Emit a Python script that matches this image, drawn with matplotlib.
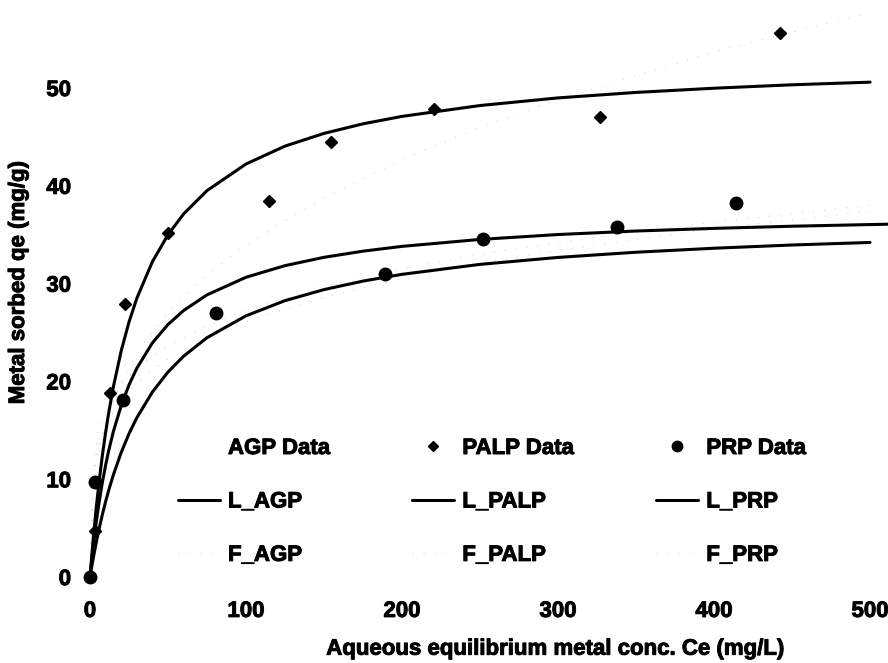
import matplotlib
matplotlib.use("Agg")
from matplotlib import pyplot as plt
from matplotlib import patheffects
from matplotlib.lines import Line2D

plt.rcParams['font.family'] = ['Liberation Sans', 'DejaVu Sans']
plt.rcParams['font.weight'] = 'bold'

# measured equilibrium data
palp_ce = [0, 3.5, 12.8, 22.4, 50, 115, 154.5, 220.5, 327, 442]
palp_qe = [0, 4.7, 18.8, 27.9, 35.2, 38.4, 44.5, 47.9, 47.0, 55.6]

prp_ce = [0, 3.2, 21, 81, 189, 252, 338, 414]
prp_qe = [0, 9.7, 18.1, 27.0, 31.0, 34.6, 35.8, 38.2]

# Langmuir model curves
ce_model = [0, 2, 4, 6, 8, 10, 12, 15, 20, 25, 30, 40, 50, 60, 75, 100, 125,
            150, 175, 200, 250, 300, 350, 400, 450, 500]
l_palp = [0, 3.79, 7.08, 9.96, 12.51, 14.76, 16.79, 19.45, 23.12, 26.07, 28.49,
          32.24, 35.0, 37.12, 39.51, 42.23, 44.06, 45.36, 46.34, 47.10, 48.21,
          48.99, 49.55, 49.98, 50.33, 50.60]
l_prp = [0, 1.85, 3.52, 5.04, 6.43, 7.70, 8.87, 10.45, 12.73, 14.65, 16.28,
         18.92, 20.96, 22.58, 24.47, 26.71, 28.26, 29.39, 30.26, 30.95, 31.97,
         32.68, 33.21, 33.62, 33.95, 34.21]
ce_agp = ce_model + [520]
l_agp = [0, 3.02, 5.59, 7.80, 9.73, 11.42, 12.93, 14.88, 17.53, 19.64, 21.34,
         23.94, 25.82, 27.25, 28.85, 30.65, 31.84, 32.69, 33.32, 33.81, 34.52,
         35.02, 35.38, 35.65, 35.87, 36.04, 36.10]

# Freundlich model curves
ce_fr = [0, 2, 5, 10, 20, 35, 50, 75, 100, 150, 200, 250, 300, 400, 500]
f_agp = [0, 11.0, 14.8, 17.1, 19.7, 22.0, 23.6, 25.7, 27.3, 29.7, 31.5, 33.0,
         34.2, 36.3, 38.0]
f_palp = [0, 9.4, 12.6, 15.9, 19.97, 24.0, 27.0, 30.9, 33.96, 38.8, 42.7, 46.0,
          48.8, 53.7, 57.7]
f_prp = [0, 10.0, 13.3, 15.6, 18.2, 20.5, 22.3, 24.4, 26.1, 28.6, 30.5, 32.1,
         33.4, 35.6, 37.4]

x_ticks = [0, 100, 200, 300, 400, 500]
y_ticks = [0, 10, 20, 30, 40, 50]

fig = plt.figure(figsize=(8.88, 6.63), dpi=100)
ax = fig.add_axes([0.0957, 0.1146, 0.9043, 0.8854])

fsize = 16
heavy = [patheffects.withStroke(linewidth=0.7, foreground='black')]
line_kw = dict(color='black', lw=2.2, solid_capstyle='round', solid_joinstyle='round')
dot_kw = dict(color='#d2d2d2', lw=0.8, ls=(0, (1, 9)))

ax.plot(ce_fr, f_agp, **dot_kw)
ax.plot(ce_fr, f_palp, **dot_kw)
ax.plot(ce_fr, f_prp, **dot_kw)
ax.plot(ce_agp, l_agp, **line_kw)
ax.plot(ce_model, l_palp, **line_kw)
ax.plot(ce_model, l_prp, **line_kw)
ax.plot(palp_ce, palp_qe, ls='none', marker='D', ms=5.8, color='black', clip_on=False)
ax.plot(prp_ce, prp_qe, ls='none', marker='o', ms=9, color='black', clip_on=False)

ax.set_xlim(-3.2, 511.5)
ax.set_ylim(-1.02, 59.0)
ax.set_xticks(x_ticks)
ax.set_yticks(y_ticks)
ax.tick_params(length=0, labelsize=fsize, pad=10)
for s in ax.spines.values():
    s.set_visible(False)

ax.set_xlabel('Aqueous equilibrium metal conc. Ce (mg/L)', fontsize=fsize, fontweight='bold')
ax.set_ylabel('Metal sorbed qe (mg/g)', fontsize=fsize, fontweight='bold')
ax.xaxis.set_label_coords(0.585, -0.088)
ax.yaxis.set_label_coords(-0.0697, 0.518)

# legend entries in column order
handles = [
    Line2D([], [], ls='none', marker='none'),
    Line2D([], [], **line_kw),
    Line2D([], [], **dot_kw),
    Line2D([], [], ls='none', marker='D', ms=5.5, color='black'),
    Line2D([], [], **line_kw),
    Line2D([], [], **dot_kw),
    Line2D([], [], ls='none', marker='o', ms=7.5, color='black'),
    Line2D([], [], **line_kw),
    Line2D([], [], **dot_kw),
]
labels = ['AGP Data', 'L_AGP', 'F_AGP', 'PALP Data', 'L_PALP', 'F_PALP',
          'PRP Data', 'L_PRP', 'F_PRP']
leg = ax.legend(handles, labels, ncol=3, frameon=False, loc='upper left',
                bbox_to_anchor=(178 / 888, 1 - 438 / 663), bbox_transform=fig.transFigure,
                borderpad=0, borderaxespad=0, handlelength=1.89, handletextpad=0.36,
                columnspacing=3.7, labelspacing=1.46,
                prop={'size': fsize, 'weight': 'bold'})

# thicken all glyphs a little
texts = (ax.get_xticklabels() + ax.get_yticklabels() + leg.get_texts()
         + [ax.xaxis.label, ax.yaxis.label])
for t in texts:
    t.set_fontweight('bold')
    t.set_path_effects(heavy)

fig.savefig('out.png', dpi=100)
